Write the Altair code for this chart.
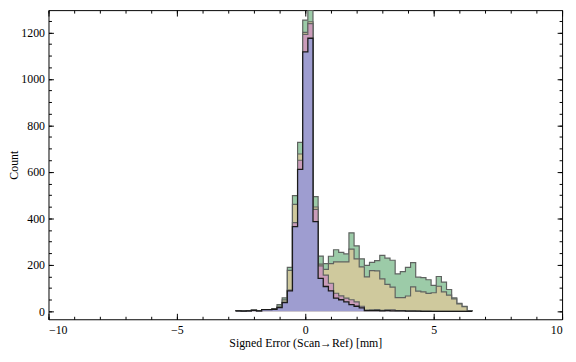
import altair as alt
import pandas as pd

# Bin edges (left edges of the 0.2-wide bins) and the final right edge
bin_left = [-2.7, -2.5, -2.3, -2.1, -1.9, -1.7, -1.5, -1.3, -1.1, -0.9,
            -0.7, -0.5, -0.3, -0.1, 0.1, 0.3, 0.5, 0.7, 0.9, 1.1,
            1.3, 1.5, 1.7, 1.9, 2.1, 2.3, 2.5, 2.7, 2.9, 3.1,
            3.3, 3.5, 3.7, 3.9, 4.1, 4.3, 4.5, 4.7, 4.9, 5.1,
            5.3, 5.5, 5.7, 5.9, 6.1, 6.3]
last_edge = 6.5

green = [2, 2, 2, 5, 2, 8, 8, 11, 29, 58,
         189, 498, 727, 1253, 1295, 494, 238, 205, 237, 265,
         254, 247, 338, 282, 226, 198, 211, 218, 241, 229,
         220, 161, 171, 189, 210, 147, 145, 136, 112, 150,
         126, 94, 58, 35, 22, 3]
olive = [2, 2, 2, 5, 2, 7, 8, 10, 22, 49,
         176, 460, 677, 1200, 1246, 449, 203, 181, 205, 213,
         213, 213, 268, 226, 191, 148, 175, 174, 140, 116,
         104, 59, 59, 66, 105, 87, 84, 77, 80, 108,
         84, 70, 54, 32, 20, 2]
pink = [2, 1, 2, 4, 2, 7, 7, 9, 17, 40,
        92, 382, 650, 1192, 1238, 439, 196, 156, 121, 78,
        67, 57, 50, 41, 22, 5, 6, 8, 4, 6,
        7, 3, 3, 2, 2, 1, 1, 1, 0, 0,
        0, 0, 0, 0, 0, 0]
blue = [2, 1, 2, 4, 2, 7, 7, 9, 16, 38,
        88, 365, 611, 1116, 1175, 386, 142, 107, 88, 57,
        50, 41, 29, 22, 15, 3, 3, 3, 2, 3,
        2, 2, 2, 1, 1, 1, 0, 0, 0, 0,
        0, 0, 0, 0, 0, 0]

x_major = [-10, -5, 0, 5, 10]
x_minor = [-10, -9, -8, -7, -6, -5, -4, -3, -2, -1, 0, 1, 2, 3, 4, 5, 6, 7, 8, 9, 10]
y_major = [0, 200, 400, 600, 800, 1000, 1200]
y_minor = [0, 50, 100, 150, 200, 250, 300, 350, 400, 450, 500, 550, 600, 650,
           700, 750, 800, 850, 900, 950, 1000, 1050, 1100, 1150, 1200, 1250]

W, H = 520, 313
FONT = "Liberation Serif"

xs = alt.Scale(domain=[-10, 10], nice=False, zero=False)
ys = alt.Scale(domain=[-34, 1296], nice=False, zero=False)


def area_frame(counts):
    return pd.DataFrame({"x": bin_left + [last_edge], "y": counts + [0]})


def line_frame(counts):
    xs_ = [bin_left[0]] + bin_left + [last_edge]
    ys_ = [0] + counts + [0]
    return pd.DataFrame({"x": xs_, "y": ys_, "i": list(range(len(xs_)))})


def tick_axis(orient, offset, values, size):
    return alt.Axis(orient=orient, offset=offset, values=values, tickSize=size,
                    labels=False, domain=False, grid=False, title=None,
                    tickColor="black", tickWidth=1, zindex=2)


ax_x = [
    alt.Axis(orient="bottom", values=x_major, tickSize=0, labelPadding=5,
             domain=False, grid=False, title="Signed Error (Scan\u2192Ref) [mm]",
             titlePadding=3, zindex=2),
    tick_axis("top", -H, x_major, 6),
    tick_axis("top", -H, x_minor, 3),
    tick_axis("bottom", -H, x_major, 6),
    tick_axis("bottom", -H, x_minor, 3),
]
ax_y = [
    alt.Axis(orient="left", values=y_major, tickSize=0, labelPadding=4, format="d",
             domain=False, grid=False, title="Count", titleX=-28, titleY=H / 2,
             titleAngle=270, titleAlign="center", titleBaseline="bottom", zindex=2),
    tick_axis("right", -W, y_major, 5),
    tick_axis("right", -W, y_minor, 3),
    tick_axis("left", -W, y_major, 5),
    tick_axis("left", -W, y_minor, 3),
]

styles = [
    (green, "#9ccba8", "#5f6360", 1.2),
    (olive, "#cfc99d", "#5f6360", 1.2),
    (pink, "#ca9cba", "#5f6360", 1.2),
    (blue, "#9e9dd0", "#1a1a1a", 1.3),
]

layers = []
for i, (counts, fill, stroke, sw) in enumerate(styles):
    layers.append(
        alt.Chart(area_frame(counts)).mark_area(
            interpolate="step-after", fill=fill, fillOpacity=1, clip=True
        ).encode(
            x=alt.X("x:Q", scale=xs, axis=ax_x[i]),
            y=alt.Y("y:Q", scale=ys, axis=ax_y[i]),
            y2=alt.datum(0),
        )
    )
    if i == 0:
        lx, ly = ax_x[4], ax_y[4]
    else:
        lx, ly = None, None
    layers.append(
        alt.Chart(line_frame(counts)).mark_line(
            interpolate="step-after", color=stroke, strokeWidth=sw, clip=True
        ).encode(
            x=alt.X("x:Q", scale=xs, axis=lx),
            y=alt.Y("y:Q", scale=ys, axis=ly),
            order="i:Q",
        )
    )

chart = alt.layer(*layers).resolve_scale(
    x="shared", y="shared"
).resolve_axis(
    x="independent", y="independent"
).properties(
    width=W, height=H, background="white",
    padding={"left": 41, "top": 0, "right": 6, "bottom": 31},
    autosize=alt.AutoSizeParams(type="none"),
).configure_view(
    stroke="black", strokeWidth=1
).configure_axis(
    labelFont=FONT, labelFontSize=12, labelColor="black",
    titleFont=FONT, titleFontSize=12, titleFontWeight="normal", titleColor="black",
)

chart.save("out.html", embed_options={"renderer": "svg", "actions": False})
